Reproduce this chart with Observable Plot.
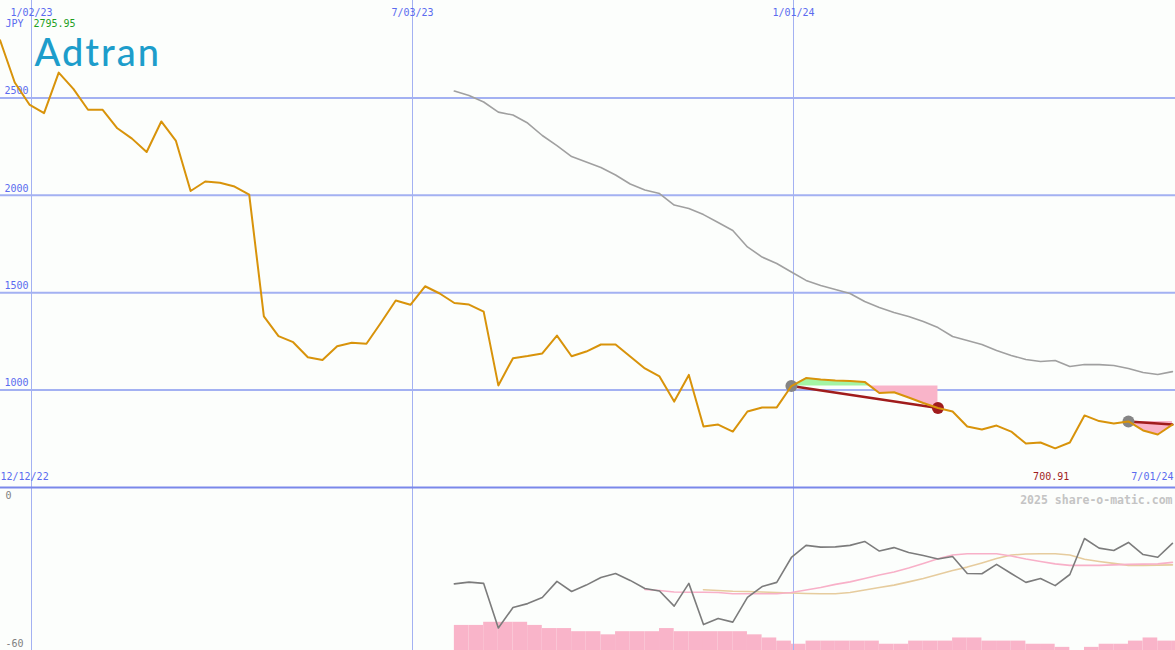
<!DOCTYPE html>
<html><head><meta charset="utf-8">
<script src="https://cdn.jsdelivr.net/npm/d3@7"></script>
<script src="https://cdn.jsdelivr.net/npm/@observablehq/plot@0.6"></script>
<style>
html,body{margin:0;padding:0;background:#fcfefc;}
#chart{position:relative;width:1175px;height:650px;overflow:hidden;background:#fcfefc;}
#chart svg{position:absolute;left:0;background:transparent;}
.logo text{letter-spacing:2px;}
</style></head><body><div id="chart"></div>
<script>
// ---------- data ----------
const firstWeek = "2022-12-18";            // weekly closes (Sundays)
const price = [2795.95, 2579, 2466, 2422, 2630, 2546, 2439, 2439, 2344, 2291,
  2222, 2379, 2279, 2022, 2071, 2064, 2045, 2004, 1378, 1277,
  1246, 1169, 1155, 1225, 1243, 1238, 1347, 1460, 1438, 1533,
  1496, 1447, 1439, 1403, 1024, 1164, 1175, 1188, 1280, 1174,
  1198, 1234, 1234, 1172, 1111, 1070, 941, 1078, 813, 823,
  787, 890, 911, 911, 1021, 1062, 1054, 1049, 1047, 1042,
  985, 989, 962, 934, 908, 890, 813, 798, 818, 787,
  726, 731, 700.91, 731, 870, 841, 828, 839, 793, 772, 823];
const maStart = 31;
const movingAvg = [2535, 2512, 2479, 2427, 2412, 2371, 2307, 2255, 2199, 2171,
  2143, 2104, 2058, 2027, 2009, 1950, 1932, 1901, 1860, 1819,
  1735, 1683, 1650, 1606, 1563, 1537, 1516, 1496, 1455, 1424,
  1398, 1378, 1352, 1321, 1275, 1255, 1234, 1203, 1178, 1157,
  1147, 1152, 1121, 1131, 1131, 1126, 1111, 1090, 1080, 1095];
const oscStart = 31;
const oscGray = [-33.8, -33.1, -33.6, -51.7, -43.4, -41.8, -39.3, -32.8, -36.9, -34.3,
  -31.2, -29.6, -32.4, -35.7, -36.7, -42.8, -33.6, -50.3, -47.8, -49.3,
  -39.3, -34.9, -33.2, -23.1, -18.2, -18.9, -18.8, -18.2, -16.6, -20.5,
  -19.1, -21.1, -22.3, -23.7, -22.7, -29.6, -29.7, -25.9, -29.6, -33.2,
  -31.6, -34.5, -30, -15.4, -19.3, -20.3, -17, -21.9, -23, -17.4];
const pinkStart = 44;
const oscPink = [-36.1, -36.5, -37.1, -37.2, -37.2, -37.3, -37.8, -37.8, -37.8, -37.8,
  -37.3, -36.3, -35.3, -34.0, -33.0, -31.6, -30.2, -29.0, -27.4, -25.5,
  -23.6, -22.1, -21.6, -21.6, -21.6, -22.5, -23.7, -24.7, -25.7, -26.3,
  -26.3, -26.3, -26.1, -25.9, -25.8, -25.7, -25.1];
const tanStart = 48;
const oscTan = [-36.2, -36.5, -36.8, -36.9, -37.1, -37.3, -37.5, -37.7, -37.8, -37.8,
  -37.3, -36.3, -35.3, -34.3, -33.0, -31.6, -30.0, -28.4, -27.0, -25.3,
  -23.5, -22.1, -21.7, -21.6, -21.6, -22.1, -23.8, -24.7, -25.5, -26.3,
  -26.3, -26.2, -26.1];
const histStart = 31;
const histLevels = [8, 8, 9, 9, 9, 8, 7, 7, 6, 6,
  5, 6, 6, 6, 7, 6, 6, 6, 6, 6,
  5, 4, 3, 2, 3, 3, 3, 3, 3, 2,
  2, 3, 3, 3, 4, 4, 3, 3, 3, 2,
  2, 1, 0, 1, 2, 2, 3, 4, 3, 3];
const trades = [{start: 54, end: 64, closed: true}, {start: 77, end: 80, closed: false}];
const gridDates = ["2023-01-02", "2023-07-03", "2024-01-01"];
const yTicks = [1000, 1500, 2000, 2500];
const rangeStartLabel = "2022-12-12";
const rangeEndLabel = "2024-07-01";
const currency = "JPY";
const company = "Adtran";
const credit = "2025 share-o-matic.com";
const oscTicks = [0, -60];

// ---------- helpers ----------
const DAY = 864e5;
const parse = s => new Date(s + "T00:00:00Z");
const t0 = parse(firstWeek);
const dateAt = i => new Date(+t0 + i * 7 * DAY);
const fmt = d3.utcFormat("%-m/%d/%y");
const grid = gridDates.map(parse);
const pxPerDay = (1174 - 31) / ((+parse(rangeEndLabel) - +grid[0]) / DAY);
const xDomain = [new Date(+grid[0] - 31 / pxPerDay * DAY), new Date(+parse(rangeEndLabel) + 1 / pxPerDay * DAY)];

const priceData = price.map((v, i) => ({date: dateAt(i), v}));
const maData = movingAvg.map((v, k) => ({date: dateAt(maStart + k), v}));
const grayData = oscGray.map((v, k) => ({date: dateAt(oscStart + k), v}));
const pinkData = oscPink.map((v, k) => ({date: dateAt(pinkStart + k), v}));
const tanData = oscTan.map((v, k) => ({date: dateAt(tanStart + k), v}));
const histData = histLevels.map((v, k) => ({x1: dateAt(histStart + k), x2: dateAt(histStart + k + 1), v}));

function tradeArea(t) {
  const level = price[t.start];
  const pts = [];
  for (let i = t.start; i <= t.end; i++) {
    if (i > t.start) {
      const a = price[i - 1] - level, b = price[i] - level;
      if (a * b < 0) {
        const f = a / (a - b);
        pts.push({date: new Date(+dateAt(i - 1) + f * 7 * DAY), price: level, level});
      }
    }
    pts.push({date: dateAt(i), price: price[i], level});
  }
  return pts;
}
const areas = trades.map(tradeArea).flat();
const tradeLines = trades.map(t => [t.start, t.end].map(i => ({date: dateAt(i), v: price[i], id: t.start})));

const GRID = "#a3b1f2", LABEL = "#5b6bef", MONO = "DejaVu Sans Mono";
const maxV = d3.max(price), minI = d3.minIndex(price);

// ---------- top panel ----------
const topPlot = Plot.plot({
  width: 1175, height: 490, marginTop: 0, marginBottom: 3, marginLeft: 0, marginRight: 0,
  x: {type: "utc", domain: xDomain, axis: null},
  y: {domain: [500, 3000], axis: null},
  style: {background: "transparent", fontFamily: MONO, fontSize: "10px"},
  marks: [
    Plot.ruleY(yTicks, {stroke: GRID, strokeWidth: 2}),
    Plot.ruleX(grid, {stroke: GRID, strokeWidth: 1}),
    Plot.text(yTicks, {y: d => d, text: d => String(d), frameAnchor: "left", dx: 4, dy: -7, textAnchor: "start", fill: LABEL}),
    Plot.text(grid, {x: d => d, text: d => fmt(d), frameAnchor: "top", dy: 8, fill: LABEL}),
    Plot.text([currency], {text: d => d, frameAnchor: "top-left", dx: 5, dy: 19, textAnchor: "start", fill: LABEL}),
    Plot.text([maxV], {text: d => d.toFixed(2), frameAnchor: "top-left", dx: 33, dy: 19, textAnchor: "start", fill: "#1f9f1f"}),
    Plot.text([company], {text: d => d, frameAnchor: "top-left", dx: 34, dy: 39, textAnchor: "start", fill: "#1d9dcb", fontFamily: "Lato", fontSize: 38, fontWeight: 500, className: "logo"}),
    Plot.text([rangeStartLabel], {text: d => fmt(parse(d)), frameAnchor: "bottom-left", dx: 0, dy: -8, textAnchor: "start", fill: LABEL}),
    Plot.text([rangeEndLabel], {text: d => fmt(parse(d)), frameAnchor: "bottom-right", dx: -2, dy: -8, textAnchor: "end", fill: LABEL}),
    Plot.text([minI], {x: i => dateAt(i), text: i => price[i].toFixed(2), frameAnchor: "bottom", dy: -8, dx: -4, fill: "#a01c1c"}),
    Plot.areaY(areas, {x: "date", y1: "level", y2: d => Math.max(d.price, d.level), fill: "#a4f4a4", z: "level", curve: "linear"}),
    Plot.areaY(areas, {x: "date", y1: "level", y2: d => Math.min(d.price, d.level), fill: "#f9b4c9", z: "level", curve: "linear"}),
    Plot.line(maData, {x: "date", y: "v", stroke: "#a0a0a0", strokeWidth: 1.6}),
    Plot.line(tradeLines.flat(), {x: "date", y: "v", z: "id", stroke: "#a01c1c", strokeWidth: 2.5}),
    Plot.dot(trades.filter(t => t.closed), {x: t => dateAt(t.end), y: t => price[t.end], r: 6, fill: "#a01c1c"}),
    Plot.dot(trades, {x: t => dateAt(t.start), y: t => price[t.start], r: 6, fill: "#858585"}),
    Plot.line(priceData, {x: "date", y: "v", stroke: "#d8930a", strokeWidth: 2}),
    Plot.ruleY([500], {stroke: "#7a88ea", strokeWidth: 2})
  ]
});

// ---------- bottom panel: histogram ----------
const histPlot = Plot.plot({
  width: 1175, height: 163, marginTop: 0, marginBottom: 0, marginLeft: 0, marginRight: 0,
  x: {type: "utc", domain: xDomain, axis: null},
  y: {domain: [0, 52], range: [163, 0], axis: null},
  style: {background: "transparent"},
  marks: [
    Plot.rectY(histData, {x1: "x1", x2: "x2", y: "v", fill: "#f9b4c9"})
  ]
});

// ---------- bottom panel: oscillators ----------
const oscPlot = Plot.plot({
  width: 1175, height: 163, marginTop: 0, marginBottom: 0, marginLeft: 0, marginRight: 0,
  x: {type: "utc", domain: xDomain, axis: null},
  y: {domain: [-60, 0], range: [161, 13], axis: null},
  style: {background: "transparent", fontFamily: MONO, fontSize: "10px"},
  marks: [
    Plot.ruleX(grid, {stroke: GRID, strokeWidth: 1}),
    Plot.text(oscTicks, {y: d => d, text: d => String(d), frameAnchor: "left", dx: 5, dy: -5, textAnchor: "start", fill: "#808080"}),
    Plot.text([credit], {text: d => d, frameAnchor: "top-right", dx: -3, dy: 8, textAnchor: "end", fill: "#c4c4c4", fontWeight: "bold", fontSize: 11.5}),
    Plot.line(tanData, {x: "date", y: "v", stroke: "#e6cc9e", strokeWidth: 1.6}),
    Plot.line(pinkData, {x: "date", y: "v", stroke: "#f8b0c8", strokeWidth: 1.6}),
    Plot.line(grayData, {x: "date", y: "v", stroke: "#7c7c7c", strokeWidth: 1.6})
  ]
});

const root = document.getElementById("chart");
histPlot.style.top = "487px";
oscPlot.style.top = "487px";
topPlot.style.top = "0px";
root.append(histPlot, oscPlot, topPlot);
</script>
</body></html>
